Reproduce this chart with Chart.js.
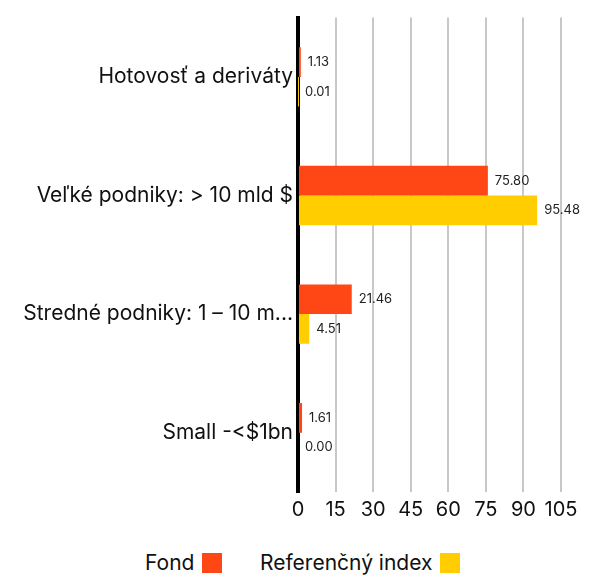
<!DOCTYPE html>
<html>
<head>
<meta charset="utf-8">
<script src="https://cdn.jsdelivr.net/npm/chart.js@4"></script>
<style>
  html, body { margin: 0; padding: 0; background: #fff; }
  #wrap { position: relative; width: 595px; height: 576px; }
  #legend { position: absolute; top: 550px; left: 0; width: 595px; height: 26px;
            font: 21px Inter, "DejaVu Sans", sans-serif; color: #111; }
  .item { position: absolute; top: 0; display: flex; align-items: center; }
  .box { display: inline-block; width: 20px; height: 20px; margin-left: 8px; }
</style>
</head>
<body>
<div id="wrap">
  <canvas id="myChart" width="595" height="535"></canvas>
  <div id="legend"></div>
</div>
<script>
const categories = ["Hotovosť a deriváty", "Veľké podniky: > 10 mld $", "Stredné podniky: 1 – 10 m...", "Small -<$1bn"];
const fondValues = [1.13, 75.80, 21.46, 1.61];
const indexValues = [0.01, 95.48, 4.51, 0.00];
const xTicks = [0, 15, 30, 45, 60, 75, 90, 105];
const seriesNames = ["Fond", "Referenčný index"];
const barColors = ["#ff4715", "#ffcd00"];

const fontName = "Inter, 'DejaVu Sans', sans-serif";

// values written to the right of each bar
const valueLabels = {
  id: "valueLabels",
  afterDatasetsDraw(chart) {
    const ctx = chart.ctx;
    ctx.save();
    ctx.font = "13px " + fontName;
    ctx.fillStyle = "#222";
    ctx.textAlign = "left";
    ctx.textBaseline = "middle";
    chart.data.datasets.forEach(function(ds, i) {
      chart.getDatasetMeta(i).data.forEach(function(bar, j) {
        ctx.fillText(ds.data[j].toFixed(2), bar.x + 7, bar.y);
      });
    });
    ctx.restore();
  }
};

const chart = new Chart("myChart", {
  type: "bar",
  data: {
    labels: categories,
    datasets: [{
      label: seriesNames[0],
      backgroundColor: barColors[0],
      data: fondValues
    }, {
      label: seriesNames[1],
      backgroundColor: barColors[1],
      data: indexValues
    }]
  },
  options: {
    indexAxis: "y",
    responsive: false,
    animation: false,
    layout: { padding: { top: 5, right: 34, left: 0, bottom: 9 } },
    datasets: { bar: { categoryPercentage: 0.5, barPercentage: 1.0 } },
    scales: {
      x: {
        min: 0,
        max: 105,
        afterBuildTicks: function(scale) {
          scale.ticks = xTicks.map(function(v) { return { value: v }; });
        },
        afterFit: function(scale) { scale.height = 34; },
        grid: { color: "#c8c8c8", lineWidth: 2, drawTicks: false },
        border: { display: false },
        ticks: { color: "#111", padding: 6, maxRotation: 0, autoSkip: false,
                 font: { family: fontName, size: 20 } }
      },
      y: {
        afterFit: function(scale) { scale.width = 298; },
        grid: { display: false, drawTicks: false },
        border: { color: "#000", width: 4 },
        ticks: { color: "#111", padding: 5, font: { family: fontName, size: 21 } }
      }
    },
    plugins: {
      legend: { display: false },
      tooltip: { enabled: false }
    }
  },
  plugins: [valueLabels]
});

// legend built from the datasets, text first and colour box after it
const legendX = [145, 260];
const legendEl = document.getElementById("legend");
chart.data.datasets.forEach(function(ds, i) {
  const item = document.createElement("span");
  item.className = "item";
  item.style.left = legendX[i] + "px";
  item.textContent = ds.label;
  const box = document.createElement("span");
  box.className = "box";
  box.style.background = ds.backgroundColor;
  item.appendChild(box);
  legendEl.appendChild(item);
});
</script>
</body>
</html>
